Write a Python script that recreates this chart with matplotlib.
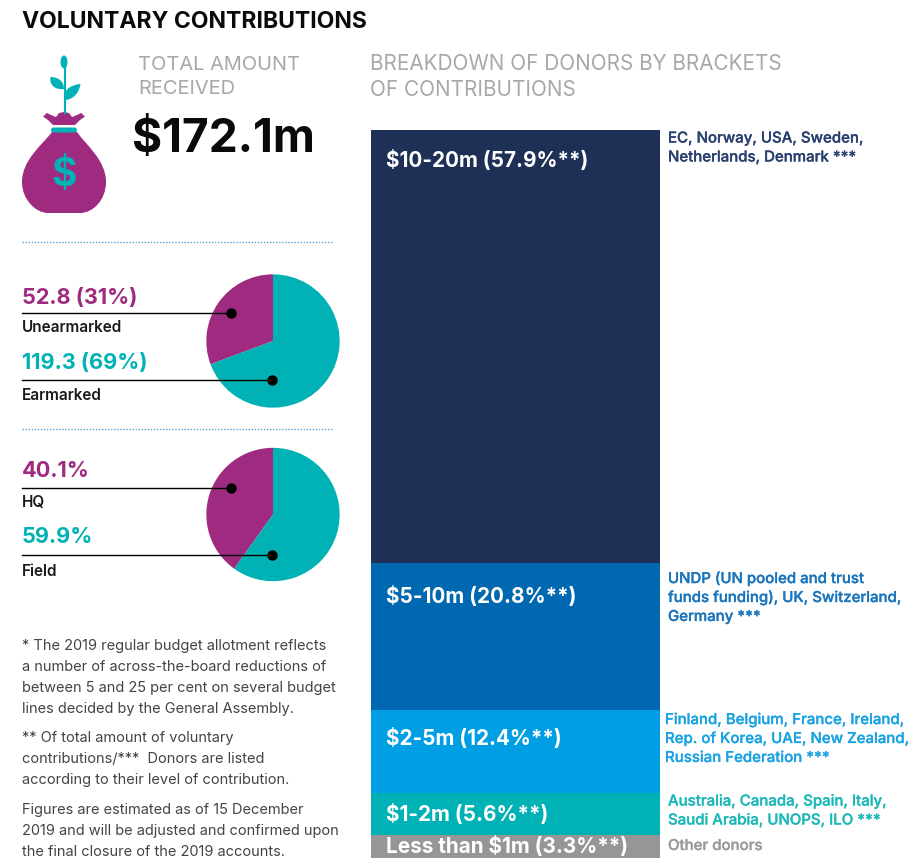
import matplotlib
matplotlib.use('Agg')
import matplotlib.pyplot as plt
import matplotlib.patheffects as pe
from matplotlib.patches import PathPatch, Ellipse, FancyBboxPatch
from matplotlib.path import Path

plt.rcParams['font.family'] = ['Inter', 'DejaVu Sans']

PURPLE = '#9f2b81'
TEAL = '#00b2b5'
GREY = '#a8a8a8'
W, H = 909, 860

# stacked bar, share of bar height
brackets = ['$10-20m (57.9%**)', '$5-10m (20.8%**)', '$2-5m (12.4%**)', '$1-2m (5.6%**)', 'Less than $1m (3.3%**)']
bar_shares = [59.5, 20.2, 11.4, 5.8, 3.1]
bar_colors = ['#1f3057', '#0068b1', '#009fe3', '#00b2b5', '#969696']
donors = [
    'EC, Norway, USA, Sweden,\nNetherlands, Denmark ***',
    'UNDP (UN pooled and trust\nfunds funding), UK, Switzerland,\nGermany ***',
    'Finland, Belgium, France, Ireland,\nRep. of Korea, UAE, New Zealand,\nRussian Federation ***',
    'Australia, Canada, Spain, Italy,\nSaudi Arabia, UNOPS, ILO ***',
    'Other donors',
]
donor_colors = ['#2a4170', '#1a75bb', '#1ba3e2', '#1db8b8', '#9a9a9a']

# pies
earmark_values = [52.8, 119.3]
location_values = [40.1, 59.9]

footnotes = [
    '* The 2019 regular budget allotment reflects\na number of across-the-board reductions of\nbetween 5 and 25 per cent on several budget\nlines decided by the General Assembly.',
    '** Of total amount of voluntary\ncontributions/***  Donors are listed\naccording to their level of contribution.',
    'Figures are estimated as of 15 December\n2019 and will be adjusted and confirmed upon\nthe final closure of the 2019 accounts.',
]


def px_axes(x0, y0, x1, y1):
    return fig.add_axes([x0 / W, 1 - y1 / H, (x1 - x0) / W, (y1 - y0) / H])


fig = plt.figure(figsize=(W / 100, H / 100), dpi=100, facecolor='white')

# overlay in pixel coords for text and the icon
ov = fig.add_axes([0, 0, 1, 1], zorder=3)
ov.set_xlim(0, W)
ov.set_ylim(H, 0)
ov.axis('off')
ov.patch.set_alpha(0)

# bar
bax = px_axes(371, 130, 660, 858)
bottom = 0
for share, col in zip(bar_shares, bar_colors):
    bax.bar(0, share, bottom=bottom, width=1, color=col, linewidth=0)
    bottom += share
bax.set_xlim(-0.5, 0.5)
bax.set_ylim(bottom, 0)
bax.axis('off')

label_y = [161, 596, 738, 814, 847]
donor_x = [668, 668, 665, 668, 668]
donor_y = [148, 598, 739, 811, 846]
for i in range(5):
    ov.text(386, label_y[i], brackets[i], color='white', fontsize=14.9, fontweight='bold', va='center', ha='left')
    ov.text(donor_x[i], donor_y[i], donors[i], color=donor_colors[i], fontsize=10.8, fontweight='medium',
            va='center', ha='left', linespacing=1.45,
            path_effects=[pe.withStroke(linewidth=0.2, foreground=donor_colors[i])])

# pies
for vals, cy in ((earmark_values, 341), (location_values, 514.5)):
    pax = px_axes(273 - 67, cy - 67, 273 + 67, cy + 67)
    pax.pie(vals, colors=[PURPLE, TEAL], startangle=90, radius=1,
            wedgeprops={'linewidth': 0})
    pax.set_xlim(-1.005, 1.005)
    pax.set_ylim(-1.005, 1.005)

# headings
ov.text(22, 22, 'VOLUNTARY CONTRIBUTIONS', fontsize=16.55, fontweight='bold', color='#0a0a0a', va='center')
ov.text(138, 77, 'TOTAL AMOUNT\nRECEIVED', fontsize=14.4, color=GREY, va='center', linespacing=1.45)
ov.text(370, 77, 'BREAKDOWN OF DONORS BY BRACKETS\nOF CONTRIBUTIONS', fontsize=14.9, color=GREY, va='center', linespacing=1.4)
ov.text(132, 140, '$172.1m', fontsize=33.2, fontweight='bold', color='#0a0a0a', va='center')

# dotted separators
for y in (241.5, 428.5):
    ov.plot([22, 332], [y, y], color='#5a9fd4', lw=1, ls=(0, (1, 1.2)))

# pie call-outs
callouts = [
    ('52.8 (31%)', PURPLE, 298, 'Unearmarked', 328, 313, 231),
    ('119.3 (69%)', TEAL, 363, 'Earmarked', 396, 380, 272),
    ('40.1%', PURPLE, 471, 'HQ', 503, 487.5, 231),
    ('59.9%', TEAL, 537, 'Field', 572, 554.5, 272),
]
for big, col, big_y, small, small_y, line_y, dot_x in callouts:
    ov.text(22, big_y, big, color=col, fontsize=15.6, fontweight='bold', va='center')
    ov.text(22, small_y, small, color='#1a1a1a', fontsize=11, fontweight='semibold', va='center')
    ov.plot([22, dot_x], [line_y, line_y], color='black', lw=1)
    ov.plot([dot_x], [line_y], 'o', color='black', ms=7.5, mew=0)

# footnotes
for txt, y in zip(footnotes, (639, 731, 803)):
    ov.text(22, y, txt, fontsize=10.5, color='#444444', va='top', ha='left', linespacing=1.64)

# money bag icon
C = Path.CURVE4
bag = Path(
    [(52, 132), (42, 145), (22, 160), (22, 182), (22, 200), (36, 213), (48, 213),
     (80, 213), (93, 213), (106, 200), (106, 182), (106, 160), (86, 145), (77, 132), (52, 132)],
    [Path.MOVETO, C, C, C, C, C, C, Path.LINETO, C, C, C, C, C, C, Path.CLOSEPOLY])
ov.add_patch(PathPatch(bag, fc=PURPLE, ec='none'))
neck = Path(
    [(43, 116.5), (47, 113), (51, 115), (56, 117), (59, 113), (64, 112), (69, 113), (72, 117), (77, 115),
     (81, 113), (85, 116.5), (80, 120), (75, 125), (53, 125), (48, 120), (43, 116.5), (43, 116.5)],
    [Path.MOVETO, Path.LINETO] + [Path.LINETO] * 14 + [Path.CLOSEPOLY])
ov.add_patch(PathPatch(neck, fc=PURPLE, ec='none', joinstyle='round'))
ov.add_patch(FancyBboxPatch((51, 127.5), 26, 5, boxstyle='round,pad=0,rounding_size=2.5', fc=TEAL, ec='none'))
ov.text(64, 176, '$', color=TEAL, fontsize=28, fontweight='bold', ha='center', va='center')
# stem and leaves
ov.plot([64.5, 64.5], [66, 113], color=TEAL, lw=1.5)
ov.add_patch(Ellipse((64, 62), 7, 13, fc=TEAL, ec='none'))
leaf_l = Path([(64, 89), (55, 90), (49, 85), (50.5, 77), (58, 77), (64, 81), (64, 89)],
              [Path.MOVETO, C, C, C, C, C, C])
ov.add_patch(PathPatch(leaf_l, fc=TEAL, ec='none'))
leaf_r = Path([(64.5, 100), (72, 100), (79, 94), (80.5, 84), (71, 85), (63, 89), (64.5, 100)],
              [Path.MOVETO, C, C, C, C, C, C])
ov.add_patch(PathPatch(leaf_r, fc=TEAL, ec='none'))

fig.savefig('out.png', dpi=100)
